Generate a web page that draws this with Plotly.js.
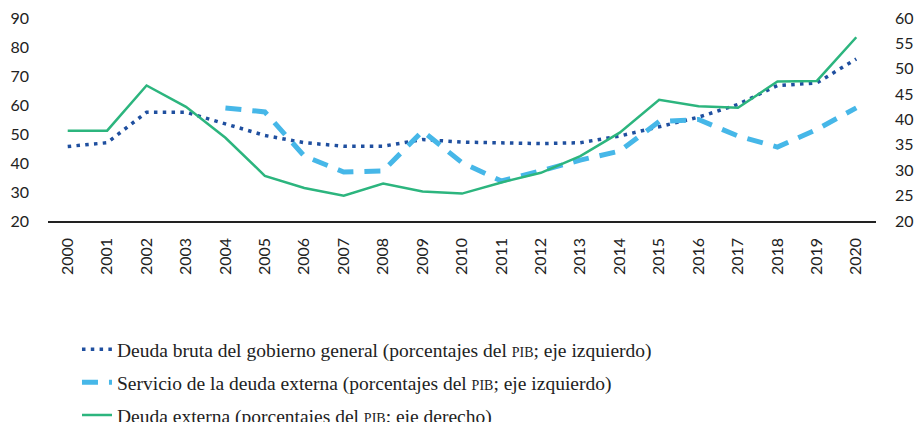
<!DOCTYPE html>
<html>
<head>
<meta charset="utf-8">
<script src="https://cdn.plot.ly/plotly-3.0.1.min.js"></script>
<style>html,body{margin:0;padding:0;background:#fff;overflow:hidden;}#chart{width:914px;height:445px;}</style>
</head>
<body>
<div id="chart"></div>
<script>
const years = ["2000","2001","2002","2003","2004","2005","2006","2007","2008","2009","2010","2011","2012","2013","2014","2015","2016","2017","2018","2019","2020"];
const deudaBruta = [45.7,47.0,57.5,57.5,53.5,49.5,47.0,45.8,45.8,48.1,47.2,46.9,46.7,47.0,49.3,52.5,55.8,60.2,66.7,67.6,75.9];
const servicioDeuda = [null,null,null,null,59.0,57.6,42.4,36.9,37.3,51.0,40.1,33.8,37.3,41.0,44.1,54.3,55.0,49.3,45.5,51.6,59.0];
const deudaExterna = [37.8,37.8,46.7,42.5,36.4,28.9,26.5,25.0,27.4,25.8,25.4,27.6,29.5,32.8,37.4,43.9,42.6,42.3,47.5,47.6,56.2];
const leftTicks = [20,30,40,50,60,70,80,90];
const rightTicks = [20,25,30,35,40,45,50,55,60];
const names = [
  "Deuda bruta del gobierno general (porcentajes del <span style='font-variant:small-caps'>pib</span>; eje izquierdo)",
  "Servicio de la deuda externa (porcentajes del <span style='font-variant:small-caps'>pib</span>; eje izquierdo)",
  "Deuda externa (porcentajes del <span style='font-variant:small-caps'>pib</span>; eje derecho)"
];

const traces = [
  {x: years, y: deudaBruta, name: names[0], type: "scatter", mode: "lines", yaxis: "y",
   legendgroup: "a", line: {color: "#1f4f9f", width: 3.5, dash: "3.5px,5.3px"}},
  {x: years, y: servicioDeuda, name: names[1], type: "scatter", mode: "lines", yaxis: "y",
   legendgroup: "b", connectgaps: false, line: {color: "#46b7e8", width: 5, dash: "16px,11px"}},
  {x: years, y: deudaExterna, name: names[2], type: "scatter", mode: "lines", yaxis: "y2",
   legendgroup: "c", line: {color: "#2cb57e", width: 2.5}}
];

const tickFont = {family: "Lato, 'Open Sans', sans-serif", size: 16, color: "#222"};
const layout = {
  width: 914, height: 445,
  margin: {l: 48, r: 38, t: 18, b: 223},
  paper_bgcolor: "#fff", plot_bgcolor: "#fff",
  showlegend: true,
  legend: {
    x: 0.035, xanchor: "left", y: -0.53, yanchor: "top",
    traceorder: "grouped", tracegroupgap: 4.5,
    font: {family: "'Liberation Serif', 'Times New Roman', serif", size: 19.5, color: "#222"},
    bgcolor: "rgba(0,0,0,0)"
  },
  xaxis: {
    type: "category", range: [-0.5, 20.5], tickangle: -90,
    showgrid: false, zeroline: false, showline: true, linecolor: "#222", linewidth: 1.5,
    ticks: "", tickfont: tickFont, ticklabelstandoff: 9, fixedrange: true
  },
  yaxis: {
    range: [20, 90], tickvals: leftTicks, ticktext: leftTicks.map(String),
    showgrid: false, zeroline: false, showline: false, ticks: "",
    tickfont: tickFont, ticklabelstandoff: 18, fixedrange: true
  },
  yaxis2: {
    range: [20, 60], tickvals: rightTicks, ticktext: rightTicks.map(String),
    overlaying: "y", side: "right",
    showgrid: false, zeroline: false, showline: false, ticks: "",
    tickfont: tickFont, ticklabelstandoff: 18, fixedrange: true
  }
};

Plotly.newPlot("chart", traces, layout, {displayModeBar: false, staticPlot: true});
</script>
</body>
</html>
